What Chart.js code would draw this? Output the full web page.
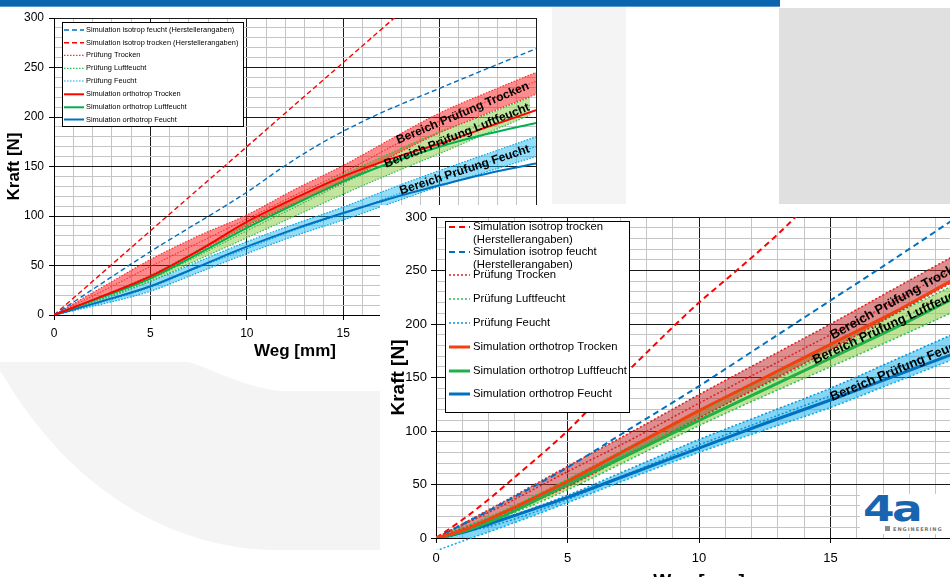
<!DOCTYPE html>
<html>
<head>
<meta charset="utf-8">
<script src="https://cdn.jsdelivr.net/npm/chart.js@4.4.1/dist/chart.umd.min.js"></script>
<style>
  html, body { margin: 0; padding: 0; width: 950px; height: 577px; overflow: hidden; background: #fff;
    font-family: 'Liberation Sans', Arial, sans-serif; }
  #bar { position: absolute; left: 0; top: 0; width: 780px; height: 6px; background: #0a64ae; border-bottom: 1px solid #5a97cc; }
  #strip { position: absolute; left: 552px; top: 7px; width: 74px; height: 197px; background: #f4f4f4; }
  #greybox { position: absolute; left: 779px; top: 8px; width: 171px; height: 196px; background: #e1e0e1; }
  #swoosh { position: absolute; left: 0; top: 0; }
  #chart1 { position: absolute; left: 0; top: 0; }
  #panel2 { position: absolute; left: 380px; top: 205px; width: 570px; height: 372px; overflow: hidden; background: #fff; }
  #chart2 { position: absolute; left: 0; top: 0; }
  #logo { position: absolute; left: 860px; top: 494px; width: 90px; height: 40px; background: #fff; overflow: hidden; }
  #logo .mark { position: absolute; left: 3px; top: -5px; font: bold 35px 'DejaVu Sans', sans-serif; color: #1864b0;
    letter-spacing: -2px; transform: scaleX(1.3); transform-origin: left top; }
  #logo i { position: absolute; left: 25px; top: 32px; width: 5px; height: 5px; background: #8a8a8a; }
  #logo b { position: absolute; left: 33px; top: 32px; font: bold 5px 'DejaVu Sans', sans-serif; color: #777; letter-spacing: 1px; }
</style>
</head>
<body>
<div id="bar"></div>
<div id="strip"></div>
<div id="greybox"></div>
<svg id="swoosh" width="380" height="577">
  <path d="M0,362 L188,362 C212,368 238,386 280,391 L380,391 L380,550 L268,550 C150,545 60,470 6,380 L0,371 Z" fill="#f4f4f4"/>
</svg>
<canvas id="chart1" width="551" height="365"></canvas>
<div id="panel2"><canvas id="chart2" width="600" height="390"></canvas></div>
<div id="logo"><span class="mark">4a</span><i></i><b>ENGINEERING</b></div>

<script>
// ---------- Diagramm 1 (oben links): Weg [mm] / Kraft [N] ----------
const wegTicks1 = [0, 5, 10, 15, 20, 25];
const kraftTicks1 = [0, 50, 100, 150, 200, 250, 300];
const names1 = ['Simulation isotrop feucht (Herstellerangaben)', 'Simulation isotrop trocken (Herstellerangaben)',
  'Prüfung Trocken', 'Prüfung Luftfeucht', 'Prüfung Feucht',
  'Simulation orthotrop Trocken', 'Simulation orthotrop Luftfeucht', 'Simulation orthotrop Feucht'];

const isoFeucht1 = [[0, 0], [5, 64], [10, 124], [12, 151], [14, 175], [16.5, 200], [20, 229], [25, 269]];
const isoTrocken1 = [[0, 0], [5, 85], [10, 170], [15, 255], [18, 306]];
const prTrockenOben1 = [[0, 0], [2.5, 28], [5, 56], [7.5, 80], [10, 101], [12.5, 127], [15, 151], [17.5, 178], [20, 204], [22.5, 225], [25, 245]];
const prTrockenMitte1 = [[0, 0], [2.5, 24], [5, 49], [7.5, 73], [10, 97], [12.5, 121], [15, 144], [17.5, 170], [20, 196], [22.5, 216], [25, 236]];
const prTrockenUnten1 = [[0, 0], [2.5, 19], [5, 40], [7.5, 64], [10, 90], [12.5, 113], [15, 134], [17.5, 160], [20, 184], [22.5, 204], [25, 223]];
const prLuftOben1 = [[0, 0], [2.5, 19], [5, 40], [7.5, 66], [10, 92], [12.5, 118], [15, 142], [17.5, 164], [20, 185], [22.5, 203], [24.7, 220]];
const prLuftMitte1 = [[0, 0], [2.5, 17], [5, 36], [7.5, 60], [10, 85], [12.5, 109], [15, 133], [17.5, 155], [20, 175], [22.5, 195], [24.7, 212]];
const prLuftUnten1 = [[0, 0], [2.5, 16], [5, 34], [7.5, 56], [10, 78], [12.5, 100], [15, 122], [17.5, 143], [20, 163], [22.5, 184], [24.7, 202]];
const prFeuchtOben1 = [[0, 0], [2.5, 16], [5, 34], [7.5, 54], [10, 74], [12.5, 92], [15, 109], [17.5, 128], [20, 146], [22.5, 163], [25, 180]];
const prFeuchtMitte1 = [[0, 0], [2.5, 13], [5, 28], [7.5, 48], [10, 67], [12.5, 86], [15, 102], [17.5, 120], [20, 137], [22.5, 154], [25, 170]];
const prFeuchtUnten1 = [[0, 0], [2.5, 11], [5, 24], [7.5, 43], [10, 62], [12.5, 80], [15, 96], [17.5, 113], [20, 130], [22.5, 145], [25, 160]];
const orthoTrocken1 = [[0, 0], [2.5, 19], [5, 39], [7.5, 65], [10, 94], [12.5, 118], [15, 140], [17.5, 158], [20, 173], [22.5, 190], [25, 207]];
const orthoLuft1 = [[0, 0], [2.5, 18], [5, 37], [7.5, 62], [10, 88], [12.5, 112], [15, 135], [17.5, 154], [20, 170], [22.5, 183], [25, 194]];
const orthoFeucht1 = [[0, 0], [2.5, 14], [5, 29], [7.5, 49], [10, 69], [12.5, 87], [15, 103], [17.5, 118], [20, 131], [22.5, 143], [25, 153]];

// ---------- Diagramm 2 (unten rechts) ----------
const wegTicks2 = [0, 5, 10, 15, 20];
const kraftTicks2 = [0, 50, 100, 150, 200, 250, 300];
const names2 = ['Simulation isotrop trocken\n(Herstellerangaben)', 'Simulation isotrop feucht\n(Herstellerangaben)',
  'Prüfung Trocken', 'Prüfung Luftfeucht', 'Prüfung Feucht',
  'Simulation orthotrop Trocken', 'Simulation orthotrop Luftfeucht', 'Simulation orthotrop Feucht'];

const isoTrocken2 = [[0, 0], [1, 17], [2, 36], [3, 57], [4, 78], [5, 100], [6, 125], [7, 149], [8, 173], [9, 197], [10, 220], [11, 241], [12, 262], [13, 284], [14, 308]];
const isoFeucht2 = [[0, 0], [2.5, 32], [5, 66], [7.5, 104], [10, 142], [12.5, 182], [15, 222], [17.5, 262], [20, 303]];
const prTrockenOben2 = [[0, 0], [2.5, 33], [5, 67], [7.5, 100], [10, 134], [12.5, 167], [15, 200], [17.5, 234], [20, 268], [21, 282]];
const prTrockenMitte2 = [[0, 0], [2.5, 30], [5, 62], [7.5, 93], [10, 126], [12.5, 158], [15, 190], [17.5, 222], [20, 256], [21, 268]];
const prTrockenUnten2 = [[0, 0], [2.5, 22], [5, 48], [7.5, 80], [10, 112], [12.5, 144], [15, 176], [17.5, 210], [20, 244], [21, 257]];
const prLuftOben2 = [[0, 0], [2.5, 25], [5, 55], [7.5, 87], [10, 118], [12.5, 149], [15, 180], [17.5, 210], [20, 240], [21, 252]];
const prLuftMitte2 = [[0, 0], [2.5, 22], [5, 51], [7.5, 83], [10, 113], [12.5, 143], [15, 173], [17.5, 203], [20, 233], [21, 245]];
const prLuftUnten2 = [[0, -4], [2.5, 19], [5, 45], [7.5, 75], [10, 105], [12.5, 133], [15, 160], [17.5, 187], [20, 215], [21, 226]];
const prFeuchtOben2 = [[0, 0], [2.5, 18], [5, 40], [7.5, 66], [10, 92], [12.5, 116], [15, 140], [17.5, 167], [20, 194], [21, 204]];
const prFeuchtMitte2 = [[0, 0], [2.5, 14], [5, 36], [7.5, 62], [10, 87], [12.5, 110], [15, 133], [17.5, 158], [20, 184], [21, 193]];
const prFeuchtUnten2 = [[0, -12], [1, -3], [2.5, 10], [5, 33], [7.5, 57], [10, 80], [12.5, 101], [15, 122], [17.5, 146], [20, 170], [21, 179]];
const orthoTrocken2 = [[0, 0], [1, 7], [2.5, 23], [5, 53], [7.5, 86], [10, 119], [12.5, 150], [15, 181], [17.5, 212], [20, 246], [21, 259]];
const orthoLuft2 = [[0, 0], [1, 6], [2.5, 20], [5, 50], [7.5, 80], [10, 110], [12.5, 139], [15, 168], [17.5, 197], [20, 228], [21, 240]];
const orthoFeucht2 = [[0, 0], [1, 5], [2.5, 17], [5, 38], [7.5, 61], [10, 84], [12.5, 107], [15, 129], [17.5, 152], [20, 175], [21, 184]];

const bandNames = ['Bereich Prüfung Trocken', 'Bereich Prüfung Luftfeucht', 'Bereich Prüfung Feucht'];

const FONT = "'Liberation Sans', Arial, sans-serif";
const RED = '#ff0000', BLUE = '#0070c0', GREEN = '#00b050';

function pts(a) {
  return a.map(function (p) { return { x: p[0], y: p[1] }; });
}

function series(label, data, color, width, dash, extra) {
  return Object.assign({
    label: label,
    data: pts(data),
    borderColor: color,
    borderWidth: width,
    borderDash: dash,
    pointRadius: 0,
    fill: false,
    cubicInterpolationMode: 'monotone'
  }, extra || {});
}

// linear interpolation on a dataset's points
function valueAt(data, x) {
  for (let i = 1; i < data.length; i++) {
    if (x <= data[i].x) {
      const a = data[i - 1], b = data[i];
      return a.y + (b.y - a.y) * (x - a.x) / (b.x - a.x);
    }
  }
  return data[data.length - 1].y;
}

// framed legend inside the plot area
const boxLegend = {
  id: 'boxLegend',
  afterDatasetsDraw(chart, args, o) {
    const ctx = chart.ctx;
    ctx.save();
    ctx.fillStyle = '#fff';
    ctx.fillRect(o.box[0], o.box[1], o.box[2], o.box[3]);
    ctx.strokeStyle = '#000';
    ctx.lineWidth = 1;
    ctx.strokeRect(o.box[0] + 0.5, o.box[1] + 0.5, o.box[2], o.box[3]);
    ctx.font = o.font;
    ctx.textBaseline = 'middle';
    o.labels.forEach(function (label, i) {
      const ds = chart.data.datasets.find(function (d) { return d.label === label; });
      const y = o.rows[i];
      ctx.strokeStyle = ds.borderColor;
      ctx.lineWidth = ds.borderWidth;
      ctx.setLineDash(ds.borderDash || []);
      ctx.beginPath();
      ctx.moveTo(o.lineX[0], y);
      ctx.lineTo(o.lineX[1], y);
      ctx.stroke();
      ctx.setLineDash([]);
      ctx.fillStyle = '#000';
      label.split('\n').forEach(function (t, k) {
        ctx.fillText(t, o.textX, y + k * o.lineGap);
      });
    });
    ctx.restore();
  }
};

// rotated captions centred in the test bands
const bandLabels = {
  id: 'bandLabels',
  afterDatasetsDraw(chart, args, o) {
    const ctx = chart.ctx, xs = chart.scales.x, ys = chart.scales.y;
    const sets = chart.data.datasets;
    ctx.save();
    ctx.beginPath();
    ctx.rect(chart.chartArea.left, chart.chartArea.top, chart.chartArea.width, chart.chartArea.height);
    ctx.clip();
    o.items.forEach(function (it) {
      const mid = function (v) { return (valueAt(sets[it.top].data, v) + valueAt(sets[it.top + 1].data, v)) / 2; };
      const px = xs.getPixelForValue(it.at), py = ys.getPixelForValue(mid(it.at));
      const ang = Math.atan2(ys.getPixelForValue(mid(it.at + 1)) - ys.getPixelForValue(mid(it.at - 1)),
        xs.getPixelForValue(it.at + 1) - xs.getPixelForValue(it.at - 1));
      ctx.save();
      ctx.translate(px, py);
      ctx.rotate(ang);
      ctx.font = o.font;
      ctx.textAlign = 'center';
      ctx.textBaseline = 'middle';
      ctx.fillStyle = '#000';
      ctx.fillText(it.text, 0, it.dy || 0);
      ctx.restore();
    });
    ctx.restore();
  }
};

function axes(o) {
  const isMajor = function (list) { return function (c) { return c.tick && list.includes(c.tick.value); }; };
  const mx = isMajor(o.xTicks), my = isMajor(o.yTicks);
  return {
    x: {
      type: 'linear', min: 0, max: o.xMax,
      afterFit: function (s) { s.height = o.xHeight; },
      border: { color: '#000', width: 1 },
      grid: {
        color: function (c) { return mx(c) ? '#1a1a1a' : '#c4c4c4'; },
        tickColor: function (c) { return mx(c) ? '#000' : 'rgba(0,0,0,0)'; },
        tickLength: 5
      },
      ticks: {
        stepSize: 1, autoSkip: false, maxRotation: 0, padding: o.xPad, color: '#000',
        font: { family: FONT, size: o.tickSize },
        callback: function (v) { return o.xTicks.includes(v) ? v : ''; }
      },
      title: {
        display: true, text: 'Weg [mm]', color: '#000',
        font: { family: FONT, size: o.titleSize, weight: 'bold' },
        padding: { top: 0, bottom: o.xTitlePad }
      }
    },
    y: {
      type: 'linear', min: 0, max: 300,
      afterFit: function (s) { s.width = o.yWidth; },
      border: { color: '#000', width: 1 },
      grid: {
        color: function (c) { return my(c) ? '#1a1a1a' : '#c4c4c4'; },
        tickColor: function (c) { return my(c) ? '#000' : 'rgba(0,0,0,0)'; },
        tickLength: 5
      },
      ticks: {
        stepSize: 10, autoSkip: false, padding: o.yPad, color: '#000',
        font: { family: FONT, size: o.tickSize },
        callback: function (v) { return o.yTicks.includes(v) ? v : ''; }
      },
      title: {
        display: true, text: 'Kraft [N]', color: '#000',
        font: { family: FONT, size: o.titleSize, weight: 'bold' },
        padding: { top: o.yTitlePad, bottom: 0 }
      }
    }
  };
}

// ---------- chart 1 ----------
const dot1 = [1.5, 1.5];
const sets1 = [
  series(names1[5], orthoTrocken1, RED, 2, []),
  series(names1[6], orthoLuft1, GREEN, 2, []),
  series(names1[7], orthoFeucht1, BLUE, 2, []),
  series(names1[0], isoFeucht1, BLUE, 1.4, [5, 3]),
  series(names1[1], isoTrocken1, RED, 1.4, [5, 3]),
  series(names1[2], prTrockenOben1, '#ff3030', 1.2, dot1, { fill: '+1', backgroundColor: 'rgba(255,0,0,0.45)' }),
  series('', prTrockenUnten1, '#ff3030', 1.2, dot1),
  series(names1[3], prLuftOben1, '#2fbf5a', 1.2, dot1, { fill: '+1', backgroundColor: 'rgba(146,208,80,0.55)' }),
  series('', prLuftUnten1, '#2fbf5a', 1.2, dot1),
  series(names1[4], prFeuchtOben1, '#00a8ec', 1.2, dot1, { fill: '+1', backgroundColor: 'rgba(0,176,240,0.42)' }),
  series('', prFeuchtUnten1, '#00a8ec', 1.2, dot1),
  series('', prTrockenMitte1, '#ff3030', 1.2, dot1),
  series('', prLuftMitte1, '#2fbf5a', 1.2, dot1),
  series('', prFeuchtMitte1, '#00a8ec', 1.2, dot1)
];

new Chart(document.getElementById('chart1'), {
  type: 'line',
  data: { datasets: sets1 },
  options: {
    responsive: false, animation: false, devicePixelRatio: 1,
    layout: { padding: { top: 18, right: 15, bottom: 0, left: 0 } },
    plugins: {
      legend: { display: false },
      tooltip: { enabled: false },
      filler: { drawTime: 'beforeDatasetsDraw' },
      bandLabels: {
        font: 'bold 12px ' + FONT,
        items: [
          { text: bandNames[0], top: 5, at: 21.2 },
          { text: bandNames[1], top: 7, at: 20.9 },
          { text: bandNames[2], top: 9, at: 21.3 }
        ]
      },
      boxLegend: {
        box: [62, 22, 181, 104], lineX: [64, 84], textX: 86, lineGap: 0,
        rows: [30, 42.7, 55.3, 68.3, 81, 94.3, 107.3, 119.5],
        font: '7.4px ' + FONT,
        labels: names1
      }
    },
    scales: axes({
      xMax: 25, xTicks: wegTicks1, yTicks: kraftTicks1, xHeight: 50, yWidth: 54,
      tickSize: 12, titleSize: 17, xPad: 6, yPad: 5, xTitlePad: 3, yTitlePad: 4
    })
  },
  plugins: [bandLabels, boxLegend]
});

// ---------- chart 2 ----------
const dot2 = [2, 2];
const sets2 = [
  series(names2[5], orthoTrocken2, '#f2400e', 3, []),
  series(names2[6], orthoLuft2, '#1fb04a', 3, []),
  series(names2[7], orthoFeucht2, BLUE, 3, []),
  series(names2[0], isoTrocken2, RED, 2, [6, 4]),
  series(names2[1], isoFeucht2, BLUE, 2, [6, 4]),
  series(names2[2], prTrockenOben2, '#e02020', 1.5, dot2, { fill: '+1', backgroundColor: 'rgba(190,30,30,0.5)' }),
  series('', prTrockenUnten2, '#e02020', 1.5, dot2),
  series(names2[3], prLuftOben2, '#2fbf5a', 1.5, dot2, { fill: '+1', backgroundColor: 'rgba(146,208,80,0.6)' }),
  series('', prLuftUnten2, '#2fbf5a', 1.5, dot2),
  series(names2[4], prFeuchtOben2, '#0096e0', 1.5, dot2, { fill: '+1', backgroundColor: 'rgba(0,170,235,0.48)' }),
  series('', prFeuchtUnten2, '#00b0f0', 1.5, dot2, { clip: { left: 0, top: 0, right: 0, bottom: 12 } }),
  series('', prTrockenMitte2, '#e02020', 1.5, dot2),
  series('', prLuftMitte2, '#2fbf5a', 1.5, dot2),
  series('', prFeuchtMitte2, '#0096e0', 1.5, dot2)
];

new Chart(document.getElementById('chart2'), {
  type: 'line',
  data: { datasets: sets2 },
  options: {
    responsive: false, animation: false, devicePixelRatio: 1,
    layout: { padding: { top: 12, right: 18, bottom: 0, left: 0 } },
    plugins: {
      legend: { display: false },
      tooltip: { enabled: false },
      filler: { drawTime: 'beforeDatasetsDraw' },
      bandLabels: {
        font: 'bold 13px ' + FONT,
        items: [
          { text: bandNames[0], top: 5, at: 17.6 },
          { text: bandNames[1], top: 7, at: 17.3, dy: -3 },
          { text: bandNames[2], top: 9, at: 17.6 }
        ]
      },
      boxLegend: {
        box: [65, 16, 184, 191], lineX: [69, 90], textX: 93, lineGap: 13,
        rows: [22, 47, 70, 94, 118, 142, 166, 189],
        font: '11.3px ' + FONT,
        labels: names2
      }
    },
    scales: axes({
      xMax: 20, xTicks: wegTicks2, yTicks: kraftTicks2, xHeight: 57, yWidth: 56,
      tickSize: 13, titleSize: 19, xPad: 8, yPad: 4, xTitlePad: 2, yTitlePad: 7
    })
  },
  plugins: [bandLabels, boxLegend]
});
</script>
</body>
</html>
